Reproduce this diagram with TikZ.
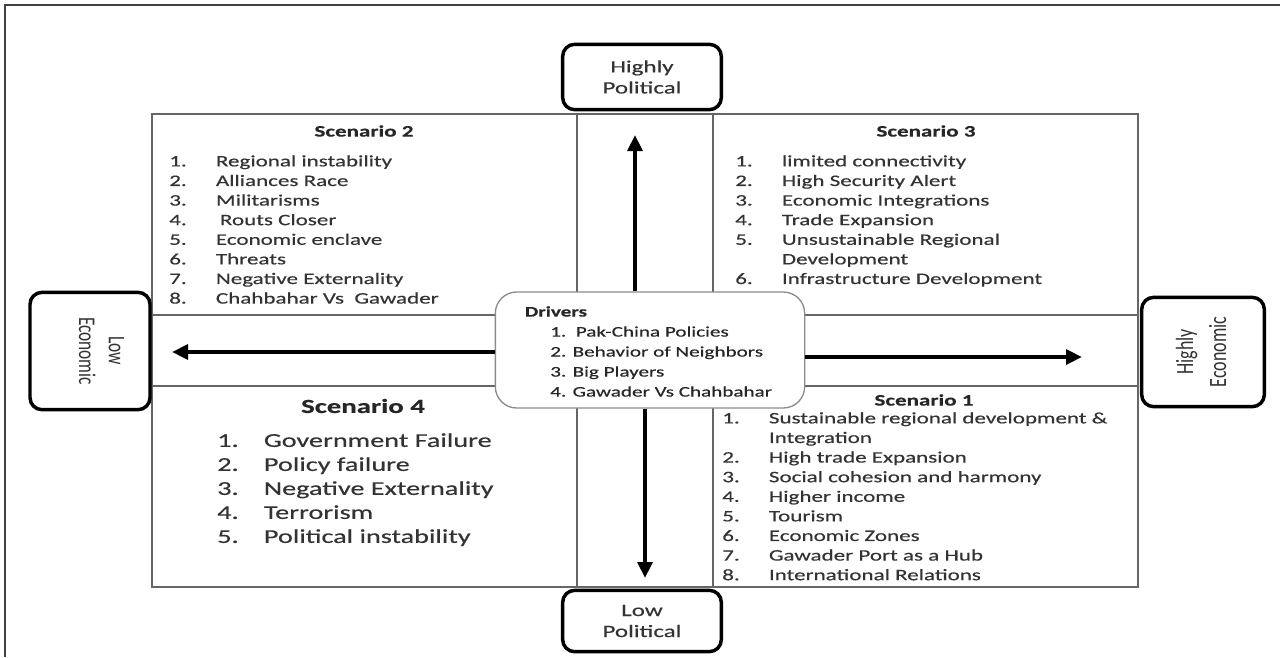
\documentclass[tikz,border=0pt]{standalone}
\usepackage{fontspec}
\setmainfont[FakeStretch=1.44, FakeBold=0.4]{Carlito}
\newfontfamily\plainfont{Carlito}
\usepackage{graphicx}
\usepackage{xcolor}
\usepackage{tikz}
\usetikzlibrary{arrows.meta,positioning,calc}

\newcommand{\nm}[1]{\makebox[35pt][l]{#1}}
\newcommand{\sidetext}[3]{\rotatebox{#1}{\scalebox{1}[1.38]{\begin{tabular}{@{}c@{}}#2\\#3\end{tabular}}}}

\begin{document}
\begin{tikzpicture}[
    x=0.75pt, y=-0.75pt,
    frm/.style={draw=black!75, line width=1.5pt},
    grd/.style={draw=black!60, line width=1.1pt},
    axbox/.style={rectangle, draw=black, line width=2.6pt, rounded corners=9pt, fill=white, align=center, text=black!80, font=\fontsize{13}{15.75}\selectfont},
    sidebox/.style={axbox, inner sep=0pt, font=\plainfont\fontsize{13}{16.3}\selectfont},
    drv/.style={rectangle, draw=black!45, line width=1pt, rounded corners=16pt, fill=white, minimum width=232pt, minimum height=87pt},
    ttl/.style={text=black!85, font=\fontsize{12}{14}\selectfont\bfseries},
    lst/.style={anchor=north west, inner sep=0pt, align=left, text=black!80, font=\fontsize{12}{14.7}\selectfont},
    bigarr/.style={-{Triangle[length=12pt,width=11pt]}, line width=3.3pt}
]
    \useasboundingbox (0,0) rectangle (1280,657);
    \draw [frm] (5,657) -- (5,5) -- (1280,5);

    % quadrants and middle bands
    \draw [grd] (152,114) rectangle (1138,587);
    \draw [grd] (577,114) -- (577,587) (713,114) -- (713,587);
    \draw [grd] (152,315) -- (1138,315) (152,386) -- (1138,386);

    \node [ttl] (t2) at (364,131) {Scenario 2};
    \node [lst] (l2) at (169,155) {\nm{1.}Regional instability\\
        \nm{2.}Alliances Race\\
        \nm{3.}Militarisms\\
        \nm{4.}\hspace{3pt}Routs Closer\\
        \nm{5.}Economic enclave\\
        \nm{6.}Threats\\
        \nm{7.}Negative Externality\\
        \nm{8.}Chahbahar Vs\ \ Gawader};

    \node [ttl] (t3) at (926,131) {Scenario 3};
    \node [lst] (l3) at (735,155) {\nm{1.}limited connectivity\\
        \nm{2.}High Security Alert\\
        \nm{3.}Economic Integrations\\
        \nm{4.}Trade Expansion\\
        \nm{5.}Unsustainable Regional\\
        \nm{}Development\\
        \nm{6.}Infrastructure Development};

    \node [ttl, font=\fontsize{15}{17}\selectfont\bfseries] (t4) at (363,406) {Scenario 4};
    \node [lst, font=\fontsize{14.7}{18}\selectfont] (l4) at (217,433) {\nm{1.}Government Failure\\
        \nm{2.}Policy failure\\
        \nm{3.}Negative Externality\\
        \nm{4.}Terrorism\\
        \nm{5.}Political instability};

    \node [ttl] (t1) at (924,400) {Scenario 1};
    \node [lst] (l1) at (722,412) {\nm{1.}Sustainable regional development \&\\
        \nm{}Integration\\
        \nm{2.}High trade Expansion\\
        \nm{3.}Social cohesion and harmony\\
        \nm{4.}Higher income\\
        \nm{5.}Tourism\\
        \nm{6.}Economic Zones\\
        \nm{7.}Gawader Port as a Hub\\
        \nm{8.}International Relations};

    \node [axbox, minimum width=119pt, minimum height=49pt] (hpol) at (642,77) {Highly\\Political};
    \node [axbox, minimum width=119pt, minimum height=46pt] (lpol) at (642,621) {Low\\Political};
    \node [sidebox, minimum width=90pt, minimum height=88pt] (leco) at (90,351) {\makebox[0pt][c]{\hspace*{15pt}\sidetext{-90}{Low}{Economic}}};
    \node [sidebox, minimum width=92pt, minimum height=82pt, font=\plainfont\fontsize{13.5}{17.9}\selectfont] (heco) at (1203,352) {\sidetext{90}{Highly}{Economic}};

    \node [drv] (drivers) at (650,350) {};
    \node [lst, text=black!85, font=\fontsize{11}{15}\selectfont] (drvlist) at (550,306) {\hspace*{-19pt}\textbf{Drivers}\\
        1.\ \ Pak-China Policies\\
        2. Behavior of Neighbors\\
        3. Big Players\\
        4. Gawader Vs Chahbahar};

    \coordinate (uptip) at (635,135);
    \coordinate (downtip) at (645,578);
    \coordinate (lefttip) at (172,352);
    \coordinate (righttip) at (1082,357);
    \draw [bigarr] (drivers.north -| uptip) -- (uptip);
    \draw [bigarr] (drivers.south -| downtip) -- (downtip);
    \draw [bigarr] (drivers.west |- lefttip) -- (lefttip);
    \draw [bigarr] (drivers.east |- righttip) -- (righttip);
\end{tikzpicture}
\end{document}
